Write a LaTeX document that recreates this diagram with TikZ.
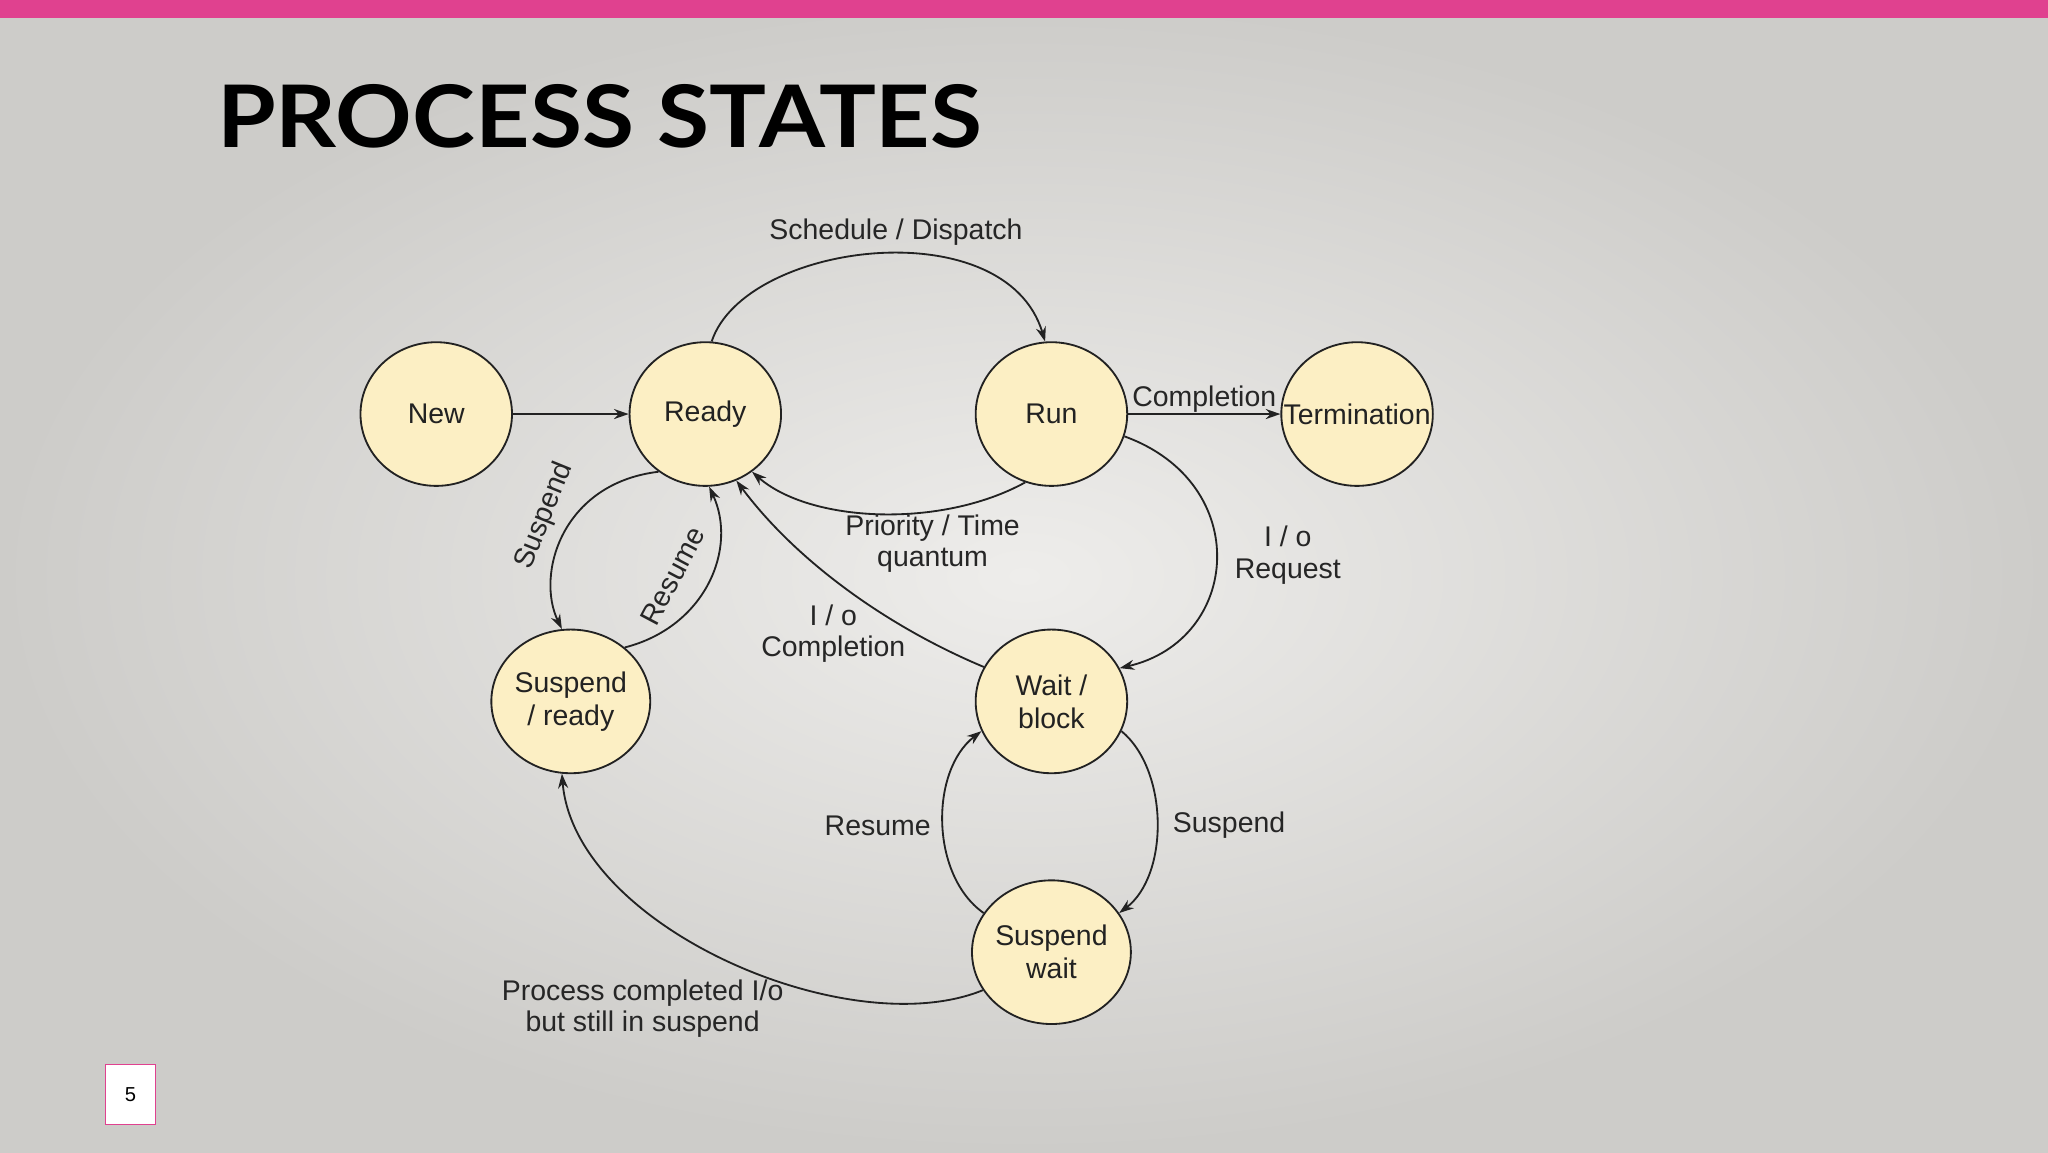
\documentclass[tikz,border=0pt]{standalone}
\usepackage{fontspec}
\setmainfont{Liberation Sans}
\newfontfamily\titlefont{Lato}
\usetikzlibrary{arrows.meta,shapes.geometric}
\definecolor{pinkbar}{HTML}{E0418F}
\definecolor{statefill}{HTML}{FCEFC4}
\definecolor{lineclr}{HTML}{222222}
\definecolor{bgin}{HTML}{EEEDEB}
\definecolor{bgout}{HTML}{CDCCC9}
\begin{document}
\begin{tikzpicture}[x=0.05cm,y=-0.05cm,
  state/.style={ellipse,draw=lineclr,line width=2pt,fill=statefill,minimum width=116*0.05cm,minimum height=110*0.05cm,inner sep=0pt,align=center,font=\fontsize{31}{36}\selectfont,text=lineclr},
  conn/.style={-{Stealth[length=16pt,width=11pt]},line width=2pt,draw=lineclr},
  lbl/.style={font=\fontsize{31}{34}\selectfont,text=black!85,align=center}]
\useasboundingbox (0,0) rectangle (1568,882);
\shade[inner color=bgin, outer color=bgout] (0,0) rectangle (1568,882);
\fill[pinkbar] (0,0) rectangle (1568,14);
\node[draw=pinkbar,fill=white,line width=1.5pt,minimum width=38*0.05cm,minimum height=46*0.05cm,font=\fontsize{22}{24}\selectfont] (pg) at (100,838) {5};
\node[anchor=base west,inner sep=0pt,xscale=1.1,font=\titlefont\fontsize{94}{100}\selectfont\bfseries] (title) at (166,113) {PROCESS STATES};
\node[state] (new) at (334,317) {New};
\node[state] (ready) at (540,317) {Ready};
\node[state] (run) at (805,317) {Run};
\node[state,label={[font=\fontsize{31}{36}\selectfont,text=lineclr]center:Termination}] (term) at (1039,317) {};
\node[state] (sr) at (437,537) {Suspend\\/ ready};
\node[state] (wb) at (805,537) {Wait /\\block};
\node[state] (sw) at (805,729) {Suspend\\wait};
\draw[conn] (new) -- (ready);
\draw[conn] (run) -- (term) node[lbl,midway,above=-3pt] {Completion};
\draw[conn] (ready.85) .. controls (570,185) and (770,160) .. (run.95);
\node[lbl] (l1) at (686,178) {Schedule / Dispatch};
\draw[conn] (run.249) .. controls (720,405) and (620,400) .. (ready.309);
\node[lbl] (l2) at (714,416) {Priority / Time\\quantum};
\draw[conn] (run.343) .. controls (960,370) and (950,490) .. (wb.26);
\node[lbl] (l3) at (986,425) {I / o\\Request};
\draw[conn] (wb.153) .. controls (680,480) and (610,430) .. (ready.295);
\node[lbl] (l4) at (638,485) {I / o\\Completion};
\draw[conn] (ready.231) .. controls (430,370) and (410,440) .. (sr.97);
\node[lbl,rotate=68] (l5) at (417,395) {Suspend};
\draw[conn] (sr.45) .. controls (540,480) and (565,420) .. (ready.273);
\node[lbl,rotate=62] (l6) at (515,441) {Resume};
\draw[conn] (wb.337) .. controls (895,590) and (895,670) .. (sw.30);
\node[lbl] (l7) at (941,632) {Suspend};
\draw[conn] (sw.150) .. controls (712,670) and (712,590) .. (wb.203);
\node[lbl] (l8) at (672,632) {Resume};
\draw[conn] (sw.209) .. controls (650,800) and (440,710) .. (sr.263);
\node[lbl] (l9) at (492,772) {Process completed I/o\\but still in suspend};
\end{tikzpicture}
\end{document}
